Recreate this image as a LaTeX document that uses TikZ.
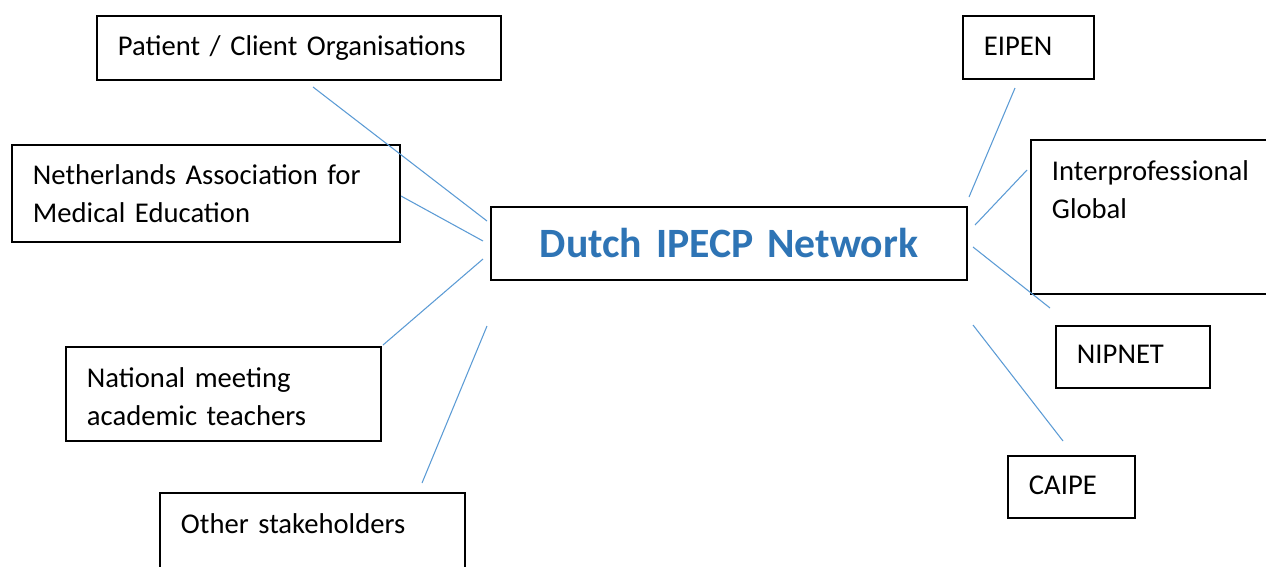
\documentclass[tikz,border=0pt]{standalone}
\usepackage{fontspec}
\setmainfont{Carlito}
\usepackage{xcolor}
\usepackage{tikz}
\usetikzlibrary{positioning}
\definecolor{hubblue}{HTML}{2E74B5}
\definecolor{linkblue}{HTML}{5B9BD5}
\tikzset{
	orgbox/.style={draw,line width=1.1pt,anchor=north west,align=left,inner xsep=0.42cm,inner ysep=0pt,font=\fontsize{16.3}{21.5}\selectfont},
	link/.style={linkblue,line width=0.6pt}
}
\begin{document}
\begin{tikzpicture}[x=0.02cm,y=-0.02cm]
		\clip (0,0) rectangle (1266,566);
		\fill[white] (0,0) rectangle (1266,566);
		% left side
		\node[orgbox,text width=7.24cm,text height=0.80cm,text depth=0.48cm] (patient) at (96,15) {Patient / Client Organisations};
		\node[orgbox,text width=6.92cm,text height=0.80cm,text depth=1.14cm] (nvmo) at (11,144) {Netherlands Association for\\Medical Education};
		\node[orgbox,text width=5.46cm,text height=0.82cm,text depth=1.06cm] (teachers) at (65,346) {National meeting\\academic teachers};
		\node[orgbox,text width=5.26cm,text height=0.82cm,text depth=1.34cm] (other) at (159,492) {Other stakeholders};
		% network in the middle
		\node[orgbox,align=center,text width=8.68cm,text height=1.02cm,text depth=0.44cm,font=\fontsize{23.75}{29}\selectfont\bfseries,text=hubblue] (hub) at (490,206) {Dutch IPECP Network};
		% right side
		\node[orgbox,text width=1.78cm,text height=0.80cm,text depth=0.46cm] (eipen) at (962,15) {EIPEN};
		\node[orgbox,text width=4.56cm,text height=0.82cm,text depth=2.26cm] (global) at (1030,139) {Interprofessional\\Global};
		\node[orgbox,text width=2.24cm,text height=0.76cm,text depth=0.48cm] (nipnet) at (1055,325) {NIPNET};
		\node[orgbox,text width=1.70cm,text height=0.78cm,text depth=0.46cm] (caipe) at (1007,455) {CAIPE};
		% loose ends of the links
		\coordinate (patient-end) at (313,87);
		\coordinate (nvmo-end) at (401,196);
		\coordinate (teachers-end) at (383,345);
		\coordinate (other-end) at (422,483);
		\coordinate (hub-a) at (487,221);
		\coordinate (hub-b) at (483,241);
		\coordinate (hub-c) at (483,259);
		\coordinate (hub-d) at (487,326);
		\coordinate (hub-e) at (969,197);
		\coordinate (hub-f) at (975,225);
		\coordinate (hub-g) at (973,247);
		\coordinate (hub-h) at (973,325);
		\coordinate (eipen-end) at (1015,88);
		\coordinate (global-end) at (1027,170);
		\coordinate (nipnet-end) at (1050,308);
		\coordinate (caipe-end) at (1063,441);
		\draw[link] (patient-end) -- (hub-a);
		\draw[link] (nvmo-end) -- (hub-b);
		\draw[link] (teachers-end) -- (hub-c);
		\draw[link] (other-end) -- (hub-d);
		\draw[link] (hub-e) -- (eipen-end);
		\draw[link] (hub-f) -- (global-end);
		\draw[link] (hub-g) -- (nipnet-end);
		\draw[link] (hub-h) -- (caipe-end);
	\end{tikzpicture}
\end{document}
